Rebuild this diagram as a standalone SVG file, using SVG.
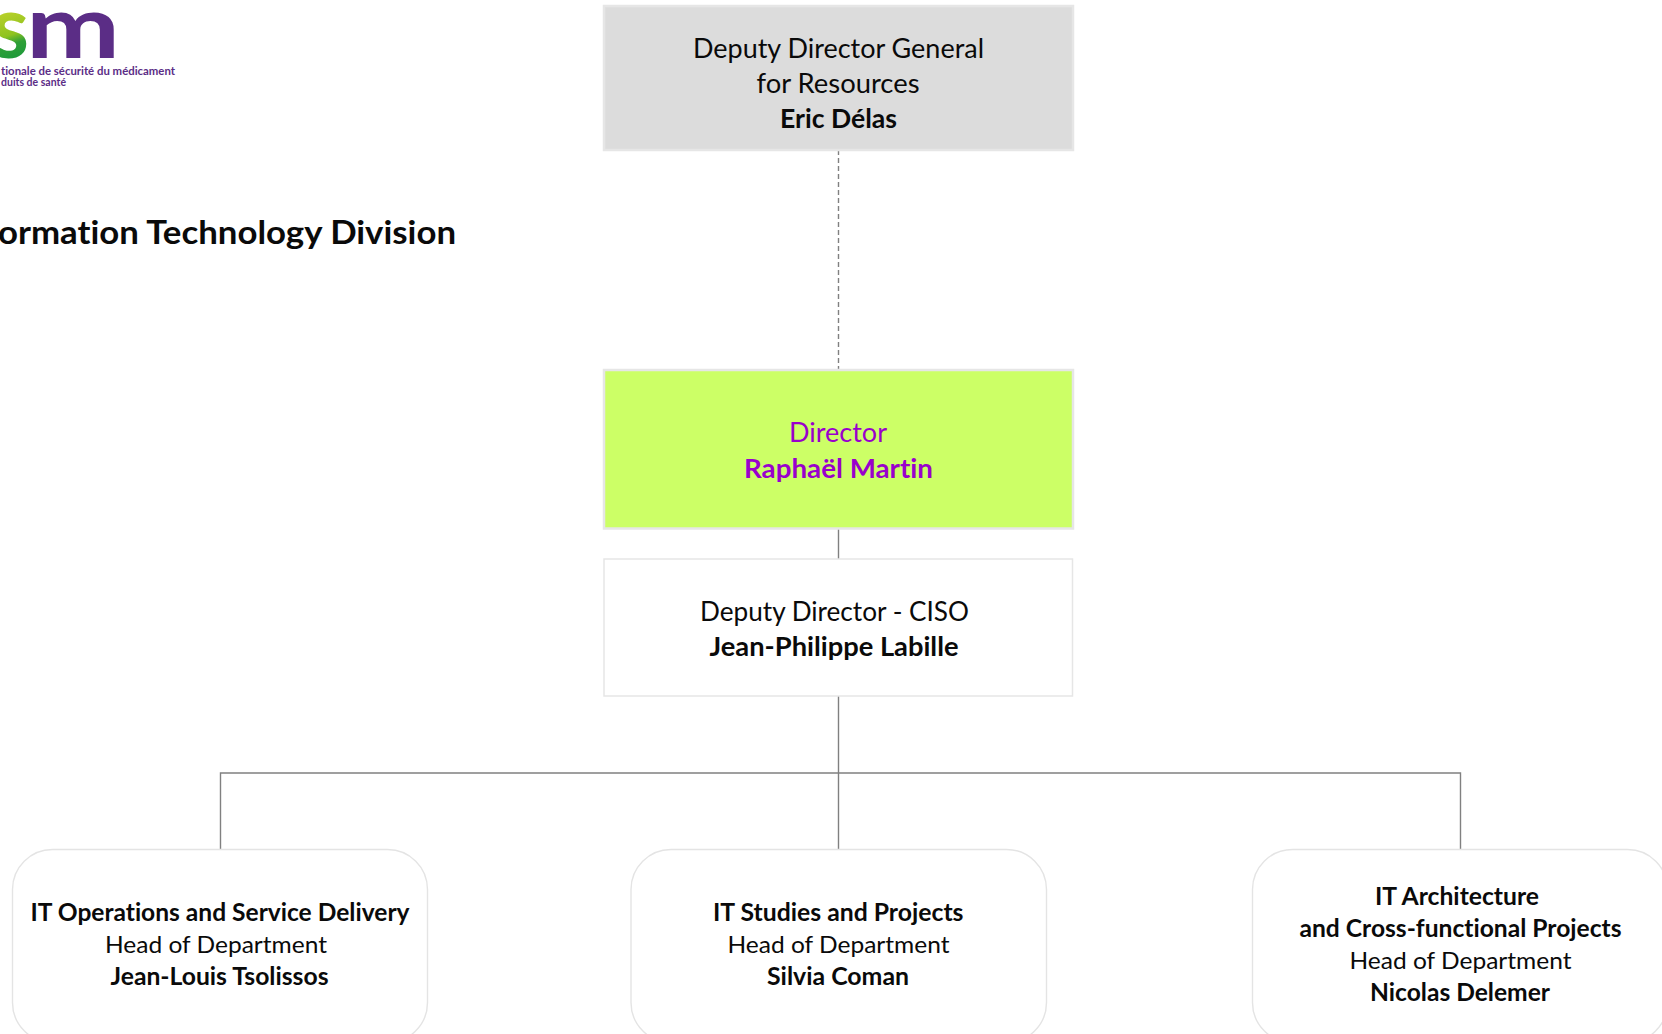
<svg xmlns="http://www.w3.org/2000/svg" width="1662" height="1034" viewBox="0 0 1662 1034">
<style>
text{font-family:"Lato","Carlito","Liberation Sans",sans-serif;fill:#0a0a0a;font-variant-ligatures:none}
.r{font-size:26px}
.b{font-size:26px;font-weight:700}
.sr{font-size:24px}
.sb{font-size:24px;font-weight:700}
.p{fill:#9900cc}
.logo{fill:#5b2d86;font-size:11px;font-weight:700}
.c{fill:none;stroke:#808080;stroke-width:1.4}
.box{stroke:#e6e6e6}
.rnd{fill:#fff;stroke:#e4e4e4;stroke-width:1.4}
</style>
<defs>
<linearGradient id="sg" gradientUnits="userSpaceOnUse" x1="0" y1="14" x2="14" y2="58">
<stop offset="0" stop-color="#b8d02a"/><stop offset="0.5" stop-color="#8fc31f"/><stop offset="0.7" stop-color="#2fa037"/><stop offset="1" stop-color="#1f9a3a"/>
</linearGradient>
</defs>
<rect width="1662" height="1034" fill="#fff"/>
<g id="logo">
<text x="-9" y="58" textLength="38" lengthAdjust="spacingAndGlyphs" style="font-size:88px;font-weight:700;fill:url(#sg)">s</text>
<text x="26" y="58" textLength="94" lengthAdjust="spacingAndGlyphs" style="font-size:88px;font-weight:700;fill:#5b2d86">m</text>
<text class="logo" x="1" y="75" textLength="174" lengthAdjust="spacingAndGlyphs">tionale de sécurité du médicament</text>
<text class="logo" x="1" y="86" textLength="65" lengthAdjust="spacingAndGlyphs">duits de santé</text>
</g>
<text id="title" x="-2" y="244" textLength="458" lengthAdjust="spacingAndGlyphs" style="font-size:32px;font-weight:700">ormation Technology Division</text>
<g id="connectors">
<path class="c" d="M838.5 150V369" stroke-dasharray="5 3"/>
<path class="c" d="M838.5 529V559M838.5 696V849.5M220.5 849.5V773H1460.5V849.5"/>
</g>
<g id="node-deputy-general">
<rect class="box" x="604" y="6" width="469" height="144" fill="#dcdcdc" stroke-width="2.5"/>
<text class="r" x="693" y="57.800" textLength="291" lengthAdjust="spacingAndGlyphs">Deputy Director General</text>
<text class="r" x="756.500" y="92.800" textLength="163" lengthAdjust="spacingAndGlyphs">for Resources</text>
<text class="b" x="780" y="127.800" textLength="117" lengthAdjust="spacingAndGlyphs">Eric Délas</text>
</g>
<g id="node-director">
<rect class="box" x="604" y="370" width="469" height="158.500" fill="#ccff66" stroke-width="2.5"/>
<text class="r p" x="789" y="441.500" textLength="98" lengthAdjust="spacingAndGlyphs">Director</text>
<text class="b p" x="744" y="477.500" textLength="189" lengthAdjust="spacingAndGlyphs">Raphaël Martin</text>
</g>
<g id="node-deputy-director">
<rect class="box" x="604" y="559" width="468.500" height="137" fill="#fff" stroke-width="1.500"/>
<text class="r" x="700" y="620.500" textLength="269" lengthAdjust="spacingAndGlyphs">Deputy Director - CISO</text>
<text class="b" x="709.500" y="655.500" textLength="249" lengthAdjust="spacingAndGlyphs">Jean-Philippe Labille</text>
</g>
<g id="node-operations">
<rect class="rnd" x="12.500" y="849.500" width="415" height="193" rx="40"/>
<text class="sb" x="30.500" y="921.300" textLength="379" lengthAdjust="spacingAndGlyphs">IT Operations and Service Delivery</text>
<text class="sr" x="105" y="953.300" textLength="222" lengthAdjust="spacingAndGlyphs">Head of Department</text>
<text class="sb" x="110.500" y="985.300" textLength="218" lengthAdjust="spacingAndGlyphs">Jean-Louis Tsolissos</text>
</g>
<g id="node-studies">
<rect class="rnd" x="631" y="849.500" width="415.500" height="193" rx="40"/>
<text class="sb" x="713" y="921.300" textLength="250.500" lengthAdjust="spacingAndGlyphs">IT Studies and Projects</text>
<text class="sr" x="727.500" y="953.300" textLength="222" lengthAdjust="spacingAndGlyphs">Head of Department</text>
<text class="sb" x="767" y="985.300" textLength="142" lengthAdjust="spacingAndGlyphs">Silvia Coman</text>
</g>
<g id="node-architecture">
<rect class="rnd" x="1252.500" y="849.500" width="415" height="193" rx="40"/>
<text class="sb" x="1375" y="905.300" textLength="164" lengthAdjust="spacingAndGlyphs">IT Architecture</text>
<text class="sb" x="1299.500" y="937.300" textLength="322" lengthAdjust="spacingAndGlyphs">and Cross-functional Projects</text>
<text class="sr" x="1349.500" y="969.300" textLength="222" lengthAdjust="spacingAndGlyphs">Head of Department</text>
<text class="sb" x="1370" y="1001.300" textLength="180" lengthAdjust="spacingAndGlyphs">Nicolas Delemer</text>
</g>
</svg>
